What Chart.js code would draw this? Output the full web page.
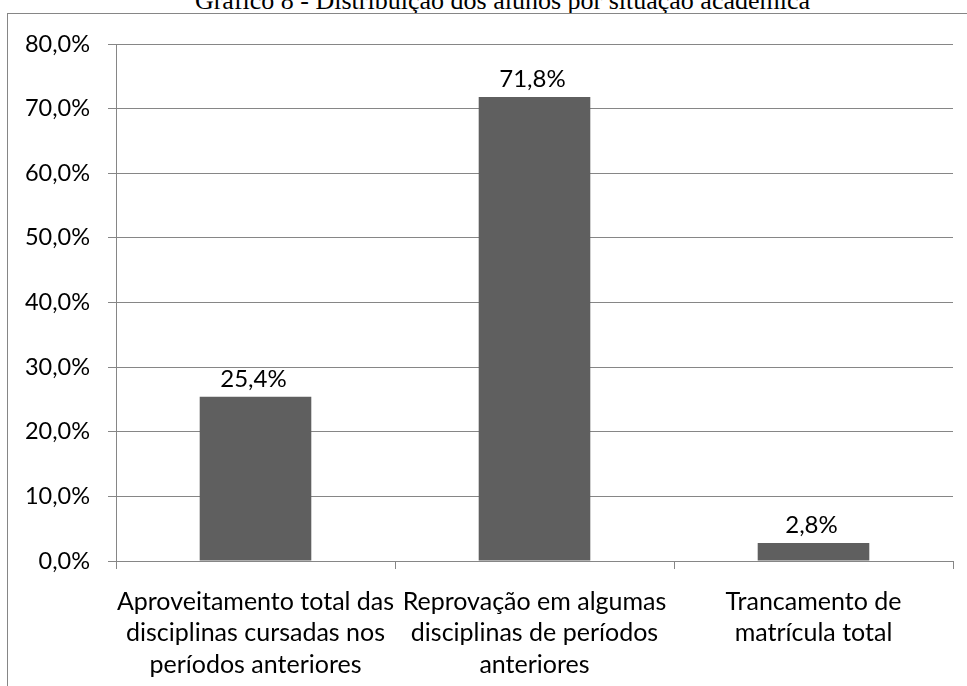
<!DOCTYPE html>
<html>
<head>
<meta charset="utf-8">
<script src="https://cdn.jsdelivr.net/npm/chart.js@4.4.0/dist/chart.umd.min.js"></script>
<style>
  body { margin: 0; background: #fff; overflow: hidden; }
  #wrap { position: relative; width: 967px; height: 686px; overflow: hidden; }
  #title {
    position: absolute; top: -12px; left: 19px; width: 967px;
    text-align: center; white-space: nowrap; color: #000;
    font: 26px/26px "Liberation Serif", "Times New Roman", serif;
  }
  #frame {
    position: absolute; left: 7px; top: 13px; right: 0; bottom: 0;
    border-left: 1px solid #868686; border-top: 1px solid #868686;
  }
  canvas { position: absolute; left: 0; top: 0; }
</style>
</head>
<body>
<div id="wrap">
  <div id="title">Gráfico 8 - Distribuição dos alunos por situação acadêmica</div>
  <div id="frame"></div>
  <canvas id="chart" width="967" height="686"></canvas>
</div>
<script>
// data
const categories = [
    ['Aproveitamento total das', 'disciplinas cursadas nos', 'períodos anteriores'],
    ['Reprovação em algumas', 'disciplinas de períodos', 'anteriores'],
    ['Trancamento de', 'matrícula total'],
];
const percentages = [25.4, 71.8, 2.8];
const yMin = 0;
const yMax = 80;
const yStep = 10;

const labelFont = 'Lato';
const gridColor = '#868686';

function pct(v) {
    return v.toFixed(1).replace('.', ',') + '%';
}

// value labels above the bars
const barLabels = {
    id: 'barLabels',
    afterDatasetsDraw(chart) {
        const ctx = chart.ctx;
        const meta = chart.getDatasetMeta(0);
        ctx.save();
        ctx.font = '24px ' + labelFont;
        ctx.fillStyle = '#000';
        ctx.textAlign = 'center';
        ctx.textBaseline = 'alphabetic';
        meta.data.forEach((bar, i) => {
            ctx.fillText(pct(percentages[i]), bar.x - 2, bar.y - 10);
        });
        ctx.restore();
    }
};

let chartEl = document.getElementById('chart');
let situacaoChart = new Chart(chartEl, {
    type: 'bar',
    data: {
        labels: categories,
        datasets: [{
            data: percentages,
            backgroundColor: '#5f5f5f',
            borderWidth: 0,
            barPercentage: 0.4,
            categoryPercentage: 1,
        }]
    },
    options: {
        responsive: false,
        animation: false,
        layout: {
            padding: { top: 44, right: 14, bottom: 0, left: 0 }
        },
        plugins: {
            legend: { display: false },
            tooltip: { enabled: false },
        },
        scales: {
            x: {
                grid: {
                    drawOnChartArea: false,
                    drawTicks: true,
                    tickLength: 8,
                    color: gridColor,
                },
                border: { color: gridColor },
                ticks: {
                    color: '#000',
                    padding: 17,
                    maxRotation: 0,
                    autoSkip: false,
                    font: { family: labelFont, size: 25, lineHeight: 1.26 },
                },
                afterFit(scale) {
                    scale.height = 125;
                    scale.paddingLeft = 0;
                    scale.paddingRight = 0;
                },
            },
            y: {
                min: yMin,
                max: yMax,
                grid: {
                    color: gridColor,
                    tickLength: 8,
                },
                border: { color: gridColor },
                ticks: {
                    stepSize: yStep,
                    color: '#000',
                    padding: 18,
                    font: { family: labelFont, size: 23.5 },
                    callback: (value) => pct(value),
                },
                afterFit(scale) {
                    scale.width = 116;
                    scale.paddingTop = 0;
                    scale.paddingBottom = 0;
                },
            },
        },
    },
    plugins: [barLabels],
});
</script>
</body>
</html>
